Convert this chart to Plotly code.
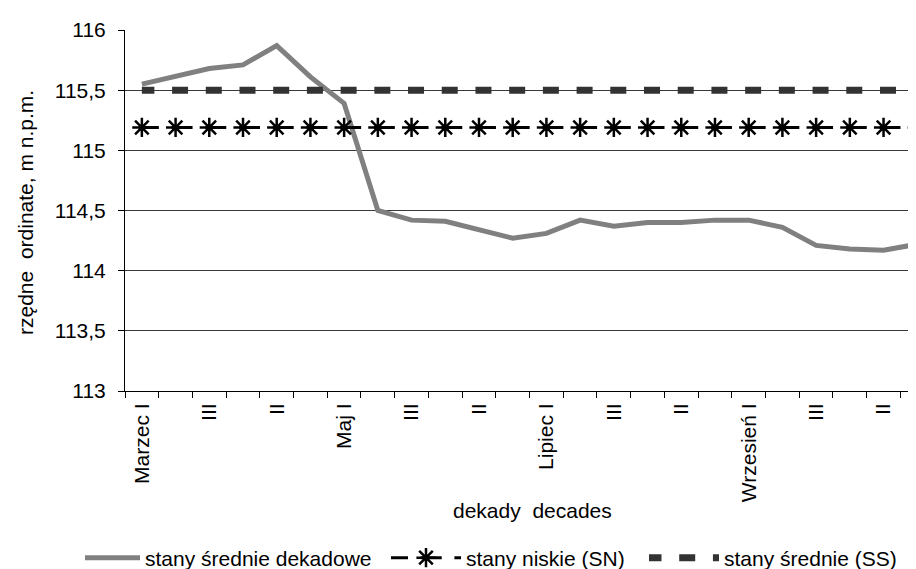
import plotly.graph_objects as go

# ---- data ----
decades = ["Marzec I", "Marzec II", "Marzec III",
           "Kwiecień I", "Kwiecień II", "Kwiecień III",
           "Maj I", "Maj II", "Maj III",
           "Czerwiec I", "Czerwiec II", "Czerwiec III",
           "Lipiec I", "Lipiec II", "Lipiec III",
           "Sierpień I", "Sierpień II", "Sierpień III",
           "Wrzesień I", "Wrzesień II", "Wrzesień III",
           "Październik I", "Październik II", "Październik III"]
decade_ticklabels = ["Marzec I", "II", "III", "Kwiecień I", "II", "III",
                     "Maj I", "II", "III", "Czerwiec I", "II", "III",
                     "Lipiec I", "II", "III", "Sierpień I", "II", "III",
                     "Wrzesień I", "II", "III", "Październik I", "II", "III"]
mean_decade = [115.55, 115.61, 115.68, 115.71, 115.87, 115.61, 115.39, 114.50,
               114.42, 114.41, 114.34, 114.27, 114.31, 114.42, 114.37, 114.40,
               114.40, 114.42, 114.42, 114.36, 114.21, 114.18, 114.17, 114.22]
low_sn = [115.19, 115.19, 115.19, 115.19, 115.19, 115.19, 115.19, 115.19,
          115.19, 115.19, 115.19, 115.19, 115.19, 115.19, 115.19, 115.19,
          115.19, 115.19, 115.19, 115.19, 115.19, 115.19, 115.19, 115.19]
mean_ss = [115.5, 115.5, 115.5, 115.5, 115.5, 115.5, 115.5, 115.5,
           115.5, 115.5, 115.5, 115.5, 115.5, 115.5, 115.5, 115.5,
           115.5, 115.5, 115.5, 115.5, 115.5, 115.5, 115.5, 115.5]
y_tickvals = [113, 113.5, 114, 114.5, 115, 115.5, 116]
y_ticktext = ["113", "113,5", "114", "114,5", "115", "115,5", "116"]

names = ["stany średnie dekadowe", "stany niskie (SN)", "stany średnie (SS)"]

FONT = "Liberation Sans, Arial, sans-serif"
FS = 21
x = list(range(len(decades)))

fig = go.Figure()
fig.add_trace(go.Scatter(
    x=x, y=mean_decade, mode="lines", name=names[0], legend="legend",
    line=dict(color="#808080", width=5),
    hovertext=decades))
fig.add_trace(go.Scatter(
    x=x, y=low_sn, mode="lines+markers", name=names[1], legend="legend2",
    line=dict(color="black", width=3, dash="17px,12.71px,4px,0px"),
    marker=dict(symbol="asterisk-open", size=16,
                line=dict(color="black", width=2.5)),
    hovertext=decades))
fig.add_trace(go.Scatter(
    x=x, y=mean_ss, mode="lines", name=names[2], legend="legend3",
    line=dict(color="#333333", width=7, dash="12.5px,17.71px,3.5px,0px"),
    hovertext=decades))

leg_common = dict(orientation="h", xref="container", yref="container",
                  y=1 - 550 / 569, yanchor="middle", xanchor="left",
                  bgcolor="rgba(0,0,0,0)", borderwidth=0,
                  font=dict(family=FONT, size=FS, color="black"))

fig.update_layout(
    width=916, height=569,
    margin=dict(l=117, r=0, t=22, b=186),
    paper_bgcolor="white", plot_bgcolor="white",
    font=dict(family=FONT, size=FS, color="black"),
    showlegend=True,
    legend=dict(leg_common, x=72 / 916, itemwidth=55),
    legend2=dict(leg_common, x=378 / 916, itemwidth=70),
    legend3=dict(leg_common, x=636 / 916, itemwidth=70),
    annotations=[
        dict(text="rzędne\u00a0\u00a0ordinate, m n.p.m.", textangle=-90,
             xref="paper", yref="paper", x=(17 - 117) / 799, y=(383 - 205) / 361,
             xanchor="center", yanchor="middle", showarrow=False,
             font=dict(family=FONT, size=FS, color="black")),
        dict(text="dekady\u00a0\u00a0decades",
             xref="paper", yref="paper", x=(524 - 117) / 799, y=-(502 - 383) / 361,
             xanchor="center", yanchor="middle", showarrow=False,
             font=dict(family=FONT, size=FS, color="black")),
    ],
)

fig.update_xaxes(
    range=[-0.5, 23.2],
    tickmode="array",
    tickvals=x[::2], ticktext=decade_ticklabels[::2],
    tickangle=-90, ticks="", ticklabelstandoff=3,
    showline=True, linecolor="black", linewidth=1,
    showgrid=False, zeroline=False,
    minor=dict(tickmode="array", tickvals=[i - 0.5 for i in range(len(decades) + 1)],
               ticks="outside", ticklen=6, tickcolor="black", tickwidth=1,
               showgrid=False),
    tickfont=dict(family=FONT, size=FS, color="black"),
)
fig.update_yaxes(
    range=[113, 116],
    tickmode="array", tickvals=y_tickvals, ticktext=y_ticktext,
    ticks="outside", ticklen=6, tickcolor="black",
    ticklabelstandoff=8,
    showline=True, linecolor="black", linewidth=1,
    showgrid=True, gridcolor="#3a3a3a", gridwidth=1,
    zeroline=False,
    tickfont=dict(family=FONT, size=FS, color="black"),
)

fig.write_html("out.html")
